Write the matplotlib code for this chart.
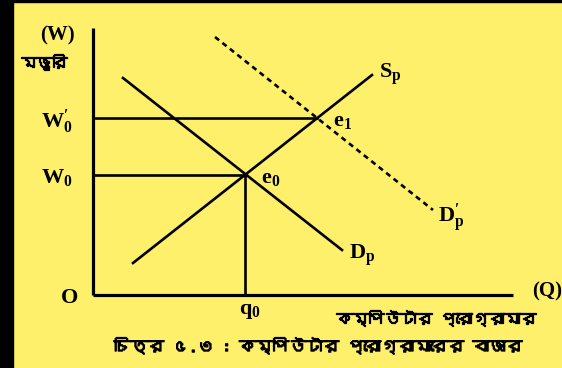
import matplotlib
matplotlib.use("Agg")
import matplotlib.pyplot as plt
import matplotlib.patheffects as pe
from matplotlib import font_manager
from fontTools.ttLib import TTFont

# data coordinates: origin O at (0, 0), units are roughly pixels of the original picture
demand = {"q": [30, 249], "w": [217, 45]}
supply = {"q": [40, 279], "w": [32, 220]}
demand_new = {"q": [122, 340], "w": [258, 85]}
e0 = (152, 120)
e1 = (224, 177)
x_end = 420
y_end = 267

y_label = "মজুরি"
x_label = "কম্পিউটার প্রোগ্রামার"
caption = "চিত্র ৫.৩ : কম্পিউটার প্রোগ্রামারের বাজার"

yellow = "#fff06b"


def find_bengali_font():
    for f in font_manager.fontManager.ttflist:
        try:
            tt = TTFont(f.fname, fontNumber=0, lazy=True)
            cmap = tt.getBestCmap()
            if cmap and 0x0995 in cmap and 0x09BF in cmap:
                return f.name
        except Exception:
            continue
    return None


bn_font = find_bengali_font()
bn_family = [bn_font, "DejaVu Sans"] if bn_font else ["DejaVu Sans"]
bold = [pe.withStroke(linewidth=0.9, foreground="black")]

plt.rcParams["mathtext.fontset"] = "custom"
plt.rcParams["mathtext.rm"] = "Liberation Serif:bold"
plt.rcParams["mathtext.it"] = "Liberation Serif:bold"
plt.rcParams["mathtext.bf"] = "Liberation Serif:bold"

fig = plt.figure(figsize=(5.62, 3.68), dpi=100)
fig.patch.set_facecolor(yellow)
ax = fig.add_axes([0, 0, 1, 1])
ax.set_facecolor(yellow)
ax.set_xlim(-93, 562 - 93)
ax.set_ylim(295 - 368, 295)
ax.axis("off")

# black frame bits of the scan
fig.patches.append(plt.Rectangle((0, 0), 13 / 562, 1, transform=fig.transFigure, color="black", zorder=0))
fig.patches.append(plt.Rectangle((0, 1 - 2 / 368), 1, 2 / 368, transform=fig.transFigure, color="black", zorder=0))

lw = 1.9
ax.plot([0, 0], [0, y_end], color="black", lw=2.3, solid_capstyle="butt")
ax.plot([0, x_end], [0, 0], color="black", lw=2.3, solid_capstyle="butt")

ax.plot(demand["q"], demand["w"], color="black", lw=lw)
ax.plot(supply["q"], supply["w"], color="black", lw=lw)
ax.plot(demand_new["q"], demand_new["w"], color="black", lw=lw, linestyle=(0, (2, 1.6)))

# equilibrium guides
ax.plot([0, e0[0]], [e0[1], e0[1]], color="black", lw=lw)
ax.plot([0, e1[0]], [e1[1], e1[1]], color="black", lw=lw)
ax.plot([e0[0], e0[0]], [0, e0[1]], color="black", lw=lw)

tk = dict(color="black", fontsize=16)
serif = dict(fontweight="bold", family="Liberation Serif", color="black")
ax.text(-23, -3, "O", ha="center", va="center", fontsize=16, **serif)
ax.text(-36, 260, "(W)", ha="center", va="center", fontsize=15, **serif)
ax.text(-49, 233, y_label, ha="center", va="center", fontsize=11, fontweight="bold",
        family=bn_family, path_effects=bold)
ax.text(-20, e1[1] - 4, r"$\mathrm{W}_{0}^{\prime}$", ha="right", va="center", **tk)
ax.text(-20, e0[1] - 2, r"$\mathrm{W}_{0}$", ha="right", va="center", **tk)
ax.text(e0[0] + 5, -16, r"$\mathrm{q}_{0}$", ha="center", va="center", **tk)
ax.text(e0[0] + 16, e0[1] - 3, r"$\mathrm{e}_{0}$", ha="left", va="center", **tk)
ax.text(e1[0] + 16, e1[1] - 3, r"$\mathrm{e}_{1}$", ha="left", va="center", **tk)
ax.text(supply["q"][1] + 7, supply["w"][1] + 1, r"$\mathrm{S}_{\mathrm{p}}$", ha="left", va="center", **tk)
ax.text(demand["q"][1] + 7, demand["w"][1] - 5, r"$\mathrm{D}_{\mathrm{p}}$", ha="left", va="center", **tk)
ax.text(demand_new["q"][1] + 5, demand_new["w"][1] - 8, r"$\mathrm{D}_{\mathrm{p}}^{\prime}$", ha="left", va="center", **tk)
ax.text(x_end + 34, 4, "(Q)", ha="center", va="center", fontsize=15, **serif)
ax.text(343, -23, x_label, ha="center", va="center", fontsize=11.5, fontweight="bold",
        family=bn_family, path_effects=bold)
ax.text(225, -51, caption, ha="center", va="center", fontsize=12, fontweight="bold",
        family=bn_family, path_effects=bold)

fig.savefig("out.png", dpi=100, facecolor=yellow)
